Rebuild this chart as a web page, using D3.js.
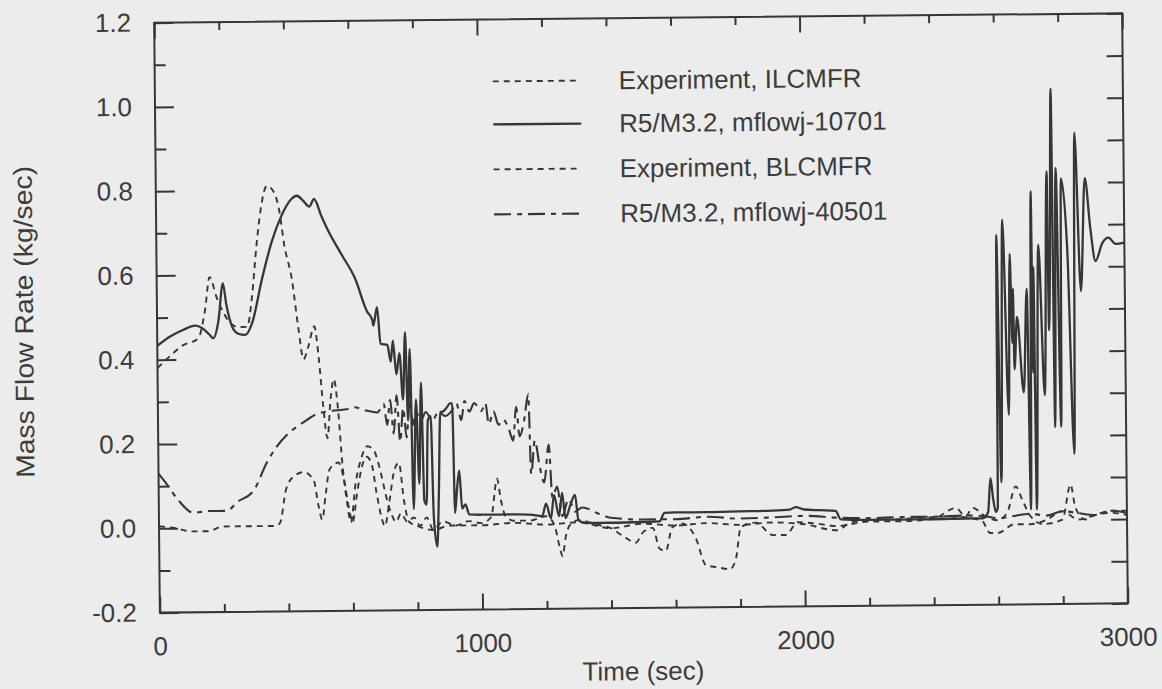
<!DOCTYPE html>
<html>
<head>
<meta charset="utf-8">
<script src="https://cdn.jsdelivr.net/npm/d3@7/dist/d3.min.js"></script>
<style>
  html, body { margin: 0; padding: 0; background: #ececec; }
  svg { display: block; }
  text { font-family: "Liberation Sans", Arial, sans-serif; fill: #3c3c3c; }
</style>
</head>
<body>
<svg id="chart" width="1162" height="689"></svg>
<script>
// ---------------- data ----------------
const xTickValues = [0, 1000, 2000, 3000];
const yTickValues = [-0.2, 0.0, 0.2, 0.4, 0.6, 0.8, 1.0, 1.2];
const legendLabels = ["Experiment, ILCMFR", "R5/M3.2, mflowj-10701", "Experiment, BLCMFR", "R5/M3.2, mflowj-40501"];

// Experiment, ILCMFR
const tILC = [0,34,78,127,149,164,186,200,222,251,279,295,310,326,344,360,381,397,419,437,453,468,487,500,512,525,535,546,558,570,583,595,610,628,648,668,688,705,720,735,750,770,790,810,830,850,880,920,960,1000,1030,1049,1060,1075,1100,1150,1200,1225,1240,1250,1260,1275,1300,1350,1400,1440,1477,1500,1530,1551,1570,1590,1620,1663,1694,1730,1768,1787,1803,1850,1902,1942,1980,2050,2100,2200,2300,2400,2470,2500,2522,2560,2600,2630,2656,2675,2700,2740,2800,2826,2840,2870,2900,2950,3000];
const vILC = [0.38,0.405,0.433,0.45,0.517,0.595,0.545,0.52,0.49,0.476,0.476,0.548,0.667,0.762,0.81,0.802,0.755,0.667,0.588,0.476,0.398,0.428,0.476,0.40,0.29,0.21,0.30,0.35,0.28,0.15,0.06,0.01,0.10,0.16,0.19,0.18,0.13,0.07,0.03,0.01,0.03,0.01,0.02,0.0,0.02,-0.01,0.01,0.0,0.01,0.005,0.02,0.11,0.06,0.02,0.01,0.01,0.02,0.0,-0.05,-0.075,-0.03,0.0,0.01,0.0,-0.01,-0.03,-0.045,-0.02,-0.01,-0.06,-0.065,-0.01,0.0,-0.035,-0.10,-0.105,-0.11,-0.085,-0.01,0.0,-0.03,-0.03,0.0,-0.005,-0.01,0.0,0.0,0.005,0.03,0.01,0.03,0.01,0.0,0.02,0.08,0.05,0.01,-0.01,0.0,0.083,0.03,0.0,0.01,0.015,0.01];

// R5/M3.2, mflowj-10701
const tJ107 = [0,40,80,118,140,160,174,190,205,215,233,251,273,295,326,357,388,419,437,455,475,490,512,530,574,614,651,667,670,682,692,713,723,730,740,750,760,768,775,782,790,800,808,816,823,830,836,845,852,862,868,875,880,895,905,912,918,925,932,940,950,962,1000,1050,1100,1150,1188,1200,1215,1225,1240,1250,1260,1275,1290,1300,1320,1400,1500,1551,1567,1600,1700,1800,1900,1955,1973,2000,2050,2097,2113,2200,2300,2400,2500,2553,2570,2578,2586,2594,2600,2603,2612,2622,2637,2644,2650,2653,2656,2665,2684,2696,2703,2711,2714,2717,2721,2733,2749,2761,2764,2768,2776,2780,2789,2799,2805,2823,2839,2848,2864,2879,2895,2910,2932,2951,2973,3000];
const vJ107 = [0.433,0.455,0.47,0.48,0.474,0.46,0.45,0.49,0.58,0.53,0.476,0.46,0.457,0.486,0.588,0.676,0.738,0.778,0.786,0.775,0.76,0.778,0.738,0.707,0.645,0.59,0.51,0.49,0.476,0.52,0.433,0.43,0.39,0.44,0.36,0.41,0.30,0.46,0.25,0.42,0.04,0.30,0.10,0.34,0.06,0.05,0.25,0.26,0.02,-0.05,0.07,0.27,0.27,0.28,0.29,0.29,0.03,0.09,0.13,0.04,0.05,0.026,0.025,0.025,0.025,0.024,0.02,0.05,0.015,0.07,0.02,0.075,0.015,0.045,0.07,0.01,0.003,0.003,0.004,0.005,0.025,0.026,0.026,0.027,0.028,0.03,0.036,0.03,0.028,0.026,0.006,0.004,0.004,0.004,0.005,0.005,0.02,0.10,0.05,0.02,0.03,0.677,0.09,0.713,0.25,0.632,0.42,0.55,0.358,0.482,0.303,0.549,0.025,0.78,0.35,0.60,0.025,0.653,0.296,0.827,0.45,0.573,1.023,0.22,0.835,0.22,0.81,0.637,0.156,0.918,0.542,0.81,0.69,0.613,0.656,0.668,0.653,0.656];

// Experiment, BLCMFR
const tBLC = [0,50,100,150,200,250,300,360,375,395,419,450,481,495,506,518,530,558,575,590,600,615,630,645,660,675,690,700,715,730,745,760,775,800,850,900,1000,1100,1200,1300,1400,1500,1600,1700,1800,1900,2000,2100,2150,2300,2450,2550,2575,2600,2650,2700,2750,2800,2850,2900,2950,3000];
const vBLC = [0.005,0.0,-0.008,-0.008,0.003,0.003,0.003,0.003,0.01,0.09,0.12,0.13,0.11,0.05,0.017,0.08,0.136,0.152,0.11,0.04,0.01,0.08,0.14,0.165,0.15,0.08,0.02,0.0,0.06,0.13,0.15,0.06,0.01,0.0,-0.01,0.0,0.0,0.005,0.0,0.005,-0.01,0.0,-0.005,0.0,-0.005,0.0,-0.005,-0.02,0.0,0.005,0.01,0.0,-0.03,-0.03,-0.01,-0.01,0.0,0.02,0.0,0.01,0.02,0.02];

// R5/M3.2, mflowj-40501
const tJ405 = [0,20,56,108,149,211,242,295,335,366,406,450,490,530,593,608,645,680,700,710,720,730,740,750,760,770,780,790,800,815,830,850,870,890,909,925,940,950,965,980,1002,1015,1025,1040,1055,1070,1086,1100,1110,1120,1135,1148,1155,1167,1182,1195,1210,1220,1235,1250,1270,1290,1312,1365,1400,1500,1600,1700,1800,1900,2000,2100,2200,2300,2400,2500,2560,2600,2650,2700,2750,2800,2850,2900,2950,3000];
const vJ405 = [0.13,0.11,0.071,0.036,0.04,0.04,0.06,0.088,0.152,0.19,0.224,0.248,0.267,0.274,0.279,0.283,0.275,0.27,0.29,0.24,0.30,0.22,0.31,0.20,0.28,0.21,0.30,0.24,0.27,0.25,0.27,0.25,0.27,0.26,0.271,0.29,0.25,0.295,0.27,0.29,0.271,0.29,0.24,0.27,0.238,0.25,0.23,0.20,0.28,0.21,0.25,0.31,0.12,0.20,0.136,0.10,0.19,0.064,0.09,0.02,0.06,0.03,0.04,0.024,0.015,0.01,0.01,0.015,0.01,0.012,0.015,0.01,0.008,0.01,0.01,0.012,0.01,0.005,0.01,0.015,0.01,0.02,0.015,0.01,0.02,0.015];

// ---------------- drawing ----------------
const svg = d3.select("#chart");
svg.append("rect").attr("width", 1162).attr("height", 689).attr("fill", "#ececec");

const L = 157, R = 1125, T = 18, B = 608;
const ink = "#363636";
const FS = 26;
// the scanned page is tilted slightly
const g = svg.append("g").attr("transform", "rotate(-0.55, 641, 313)");

const x = d3.scaleLinear().domain([0, 3000]).range([L, R]);
const y = d3.scaleLinear().domain([-0.2, 1.2]).range([B, T]);

// frame
g.append("rect").attr("x", L).attr("y", T).attr("width", R - L).attr("height", B - T)
  .attr("fill", "none").attr("stroke", ink).attr("stroke-width", 2);

// axes with inward ticks
const xMinor = d3.range(0, 3001, 200).filter(d => d % 1000 !== 0);
const yMinor = d3.range(-0.1, 1.2, 0.2).map(d => +d.toFixed(1));
const yFmt = d => d.toFixed(1);   // plain hyphen for negatives, as in the original

function tickStyle(sel) {
  sel.select(".domain").remove();
  sel.selectAll("line").attr("stroke", ink).attr("stroke-width", 2);
  sel.selectAll("text").attr("font-size", FS).attr("fill", "#3c3c3c")
     .style("font-family", "'Liberation Sans', Arial, sans-serif");
}

// bottom
g.append("g").attr("transform", `translate(0,${B})`)
  .call(d3.axisBottom(x).tickValues(xTickValues).tickSize(-16).tickPadding(24).tickFormat(d3.format("d")))
  .call(tickStyle);
g.append("g").attr("transform", `translate(0,${B})`)
  .call(d3.axisBottom(x).tickValues(xMinor).tickSize(-8).tickFormat(""))
  .call(tickStyle);
// top
g.append("g").attr("transform", `translate(0,${T})`)
  .call(d3.axisTop(x).tickValues(xTickValues).tickSize(-16).tickFormat(""))
  .call(tickStyle);
g.append("g").attr("transform", `translate(0,${T})`)
  .call(d3.axisTop(x).tickValues(xMinor).tickSize(-8).tickFormat(""))
  .call(tickStyle);
// left
g.append("g").attr("transform", `translate(${L},0)`)
  .call(d3.axisLeft(y).tickValues(yTickValues).tickSize(-19).tickPadding(23).tickFormat(yFmt))
  .call(tickStyle);
g.append("g").attr("transform", `translate(${L},0)`)
  .call(d3.axisLeft(y).tickValues(yMinor).tickSize(-11).tickFormat(""))
  .call(tickStyle);
// right
g.append("g").attr("transform", `translate(${R},0)`)
  .call(d3.axisRight(y).tickValues(yTickValues.concat(yMinor)).tickSize(-16).tickFormat(""))
  .call(tickStyle);

// axis titles
g.append("text").attr("x", 640).attr("y", 680).attr("text-anchor", "middle")
  .attr("font-size", FS).text("Time (sec)");
g.append("text").attr("transform", "translate(33,316) rotate(-90)")
  .attr("text-anchor", "middle").attr("font-size", FS)
  .attr("textLength", 312).attr("lengthAdjust", "spacingAndGlyphs")
  .text("Mass Flow Rate (kg/sec)");

// series
const series = [
  { t: tILC, v: vILC, dash: "6,5", w: 1.9 },
  { t: tJ107, v: vJ107, dash: null, w: 2.3 },
  { t: tBLC, v: vBLC, dash: "6,5", w: 1.9 },
  { t: tJ405, v: vJ405, dash: "17,6,5,6", w: 2.1 }
];

const clip = g.append("clipPath").attr("id", "plotclip");
clip.append("rect").attr("x", L).attr("y", T).attr("width", R - L).attr("height", B - T);

const line = d3.line().x(d => x(d[0])).y(d => y(d[1])).curve(d3.curveMonotoneX);
const plot = g.append("g").attr("clip-path", "url(#plotclip)");
series.forEach(s => {
  const pts = s.t.map((t, i) => [t, s.v[i]]);
  plot.append("path").datum(pts).attr("d", line)
    .attr("fill", "none").attr("stroke", ink).attr("stroke-width", s.w)
    .attr("stroke-linejoin", "round")
    .attr("stroke-dasharray", s.dash);
});

// legend
const legY = [80, 123, 168, 213];
const leg = g.append("g");
legendLabels.forEach((lab, i) => {
  const s = series[i];
  leg.append("line").attr("x1", 495).attr("x2", 583).attr("y1", legY[i]).attr("y2", legY[i])
    .attr("stroke", ink).attr("stroke-width", s.w).attr("stroke-dasharray", s.dash);
  leg.append("text").attr("x", 621).attr("y", legY[i]).attr("dy", "0.35em")
    .attr("font-size", FS).text(lab);
});
</script>
</body>
</html>
